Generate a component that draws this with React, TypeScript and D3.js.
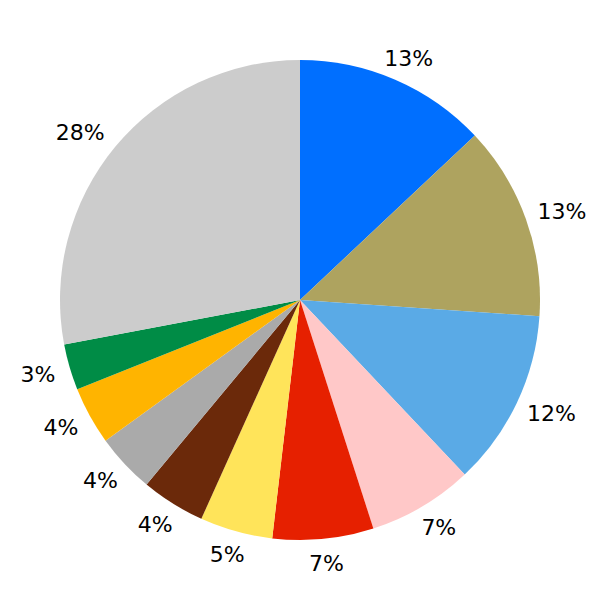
import React from "react";
import * as d3 from "d3";

const categories = ["A", "B", "C", "D", "E", "F", "G", "H", "I", "J", "K"];
const values = [13.0, 13.1, 11.9, 7.1, 6.8, 4.9, 4.3, 4.0, 3.9, 3.1, 28.0];
const labels = ["13%", "13%", "12%", "7%", "7%", "5%", "4%", "4%", "4%", "3%", "28%"];
const colors = [
  "#006fff",
  "#aea35f",
  "#5aaae6",
  "#ffc8c8",
  "#e62000",
  "#ffe45a",
  "#6b290a",
  "#aaaaaa",
  "#ffb400",
  "#008c46",
  "#cccccc",
];

const W = 600;
const H = 600;
const R = 240;
const FS = 22;

export default function App() {
  const data = categories.map((c, i) => ({ c, v: values[i], label: labels[i], color: colors[i] }));
  const pie = d3
    .pie<any>()
    .value((d: any) => d.v)
    .sort(null)
    .startAngle(0)
    .endAngle(2 * Math.PI);
  const arcs = pie(data);
  const arc = d3.arc<any>().innerRadius(0).outerRadius(R);
  const labelR = R * 1.1;

  return (
    <svg
      width={W}
      height={H}
      style={{ position: "absolute", left: 0, top: 0, display: "block", background: "#fff" }}
    >
      <g transform={`translate(${W / 2},${H / 2})`}>
        {arcs.map((a, i) => (
          <path key={i} d={arc(a) as string} fill={a.data.color} stroke="none" />
        ))}
        {arcs.map((a, i) => {
          const mid = (a.startAngle + a.endAngle) / 2;
          const s = Math.sin(mid);
          const c = Math.cos(mid);
          const long = a.data.label.length === 3;
          const x = labelR * s + s * (long ? 17.5 : 9) - (long ? 3 : 0);
          const y = -labelR * c;
          return (
            <text
              key={"t" + i}
              x={x}
              y={y + FS * 0.365}
              textAnchor="middle"
              fontFamily="DejaVu Sans"
              fontSize={FS}
              fill="#000"
            >
              {a.data.label}
            </text>
          );
        })}
      </g>
    </svg>
  );
}
